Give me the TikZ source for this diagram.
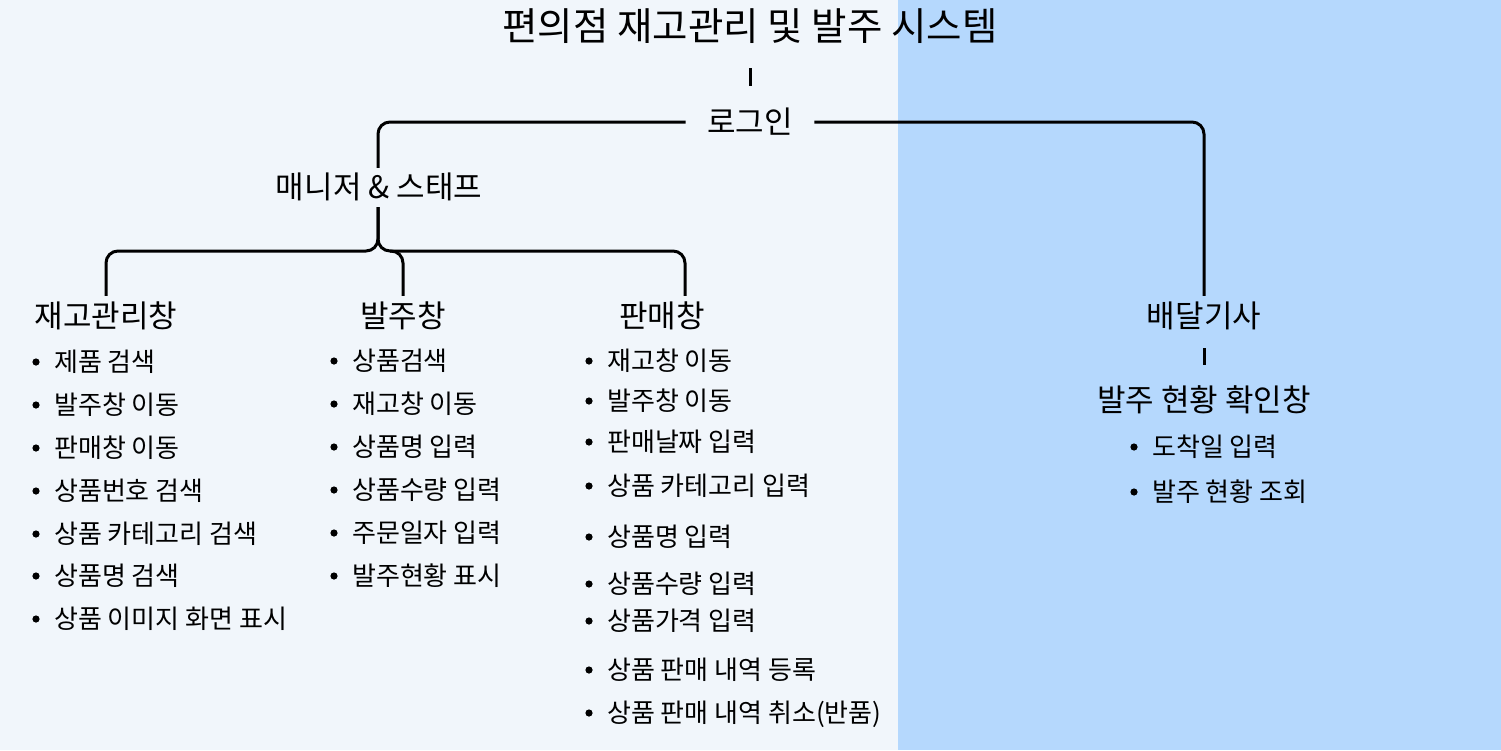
\documentclass[tikz,border=0pt]{standalone}
\usepackage{fontspec}
\setmainfont{Noto Sans CJK KR}
\definecolor{bgL}{HTML}{F1F6FB}
\definecolor{bgR}{HTML}{B5D8FD}
\begin{document}
\begin{tikzpicture}[x=1pt,y=-1pt,
  ttl/.style={font=\fontsize{38.5}{44}\selectfont, inner sep=0pt, text height=33.9pt, text depth=4.6pt},
  hd/.style={font=\fontsize{31}{36}\selectfont, inner sep=0pt, text height=27.3pt, text depth=3.7pt},
  itm/.style={font=\fontsize{26}{30}\selectfont, inner sep=0pt, text height=22.9pt, text depth=3.1pt, anchor=west},
  conn/.style={line width=3pt, rounded corners=12pt},
  bul/.style={fill=black}]
\fill[bgL] (0,0) rectangle (898,750);
\fill[bgR] (898,0) rectangle (1501,750);
\useasboundingbox (0,0) rectangle (1501,750);

\node[ttl] (title) at (750,26) {편의점 재고관리 및 발주 시스템};
\node[hd] (login) at (750,122) {로그인};
\node[hd] (mgr) at (379,187) {매니저 \& 스태프};
\node[hd] (jg) at (106,316) {재고관리창};
\node[hd] (bj) at (403,316) {발주창};
\node[hd] (pm) at (662,316) {판매창};
\node[hd] (dl) at (1204,316) {배달기사};
\node[hd] (st) at (1204,400) {발주 현황 확인창};
\coordinate (hub) at (378,251);

% connectors
\draw[conn] ([yshift=-22.75pt]title.south) -- ([yshift=20.5pt]login.north);
\draw[conn] ([xshift=-21.5pt]login.west) -| ([xshift=-1pt,yshift=3.5pt]mgr.north);
\draw[conn] ([xshift=21.5pt]login.east) -| ([yshift=4.5pt]dl.north);
\draw[conn] ([xshift=-1pt,yshift=-4.5pt]mgr.south) -- (hub) -| ([yshift=4.5pt]jg.north);
\draw[conn] ([xshift=-1pt,yshift=-4.5pt]mgr.south) -- (hub) -| ([xshift=23pt,yshift=4.5pt]pm.north);
\draw[conn] ([xshift=12pt]hub) -| ([yshift=4.5pt]bj.north);
\draw[conn] ([yshift=-16.5pt]dl.south) -- ([yshift=19pt]st.north);

% 재고관리창 items
\node[itm] (j1) at (54,362) {제품 검색};
\node[itm] (j2) at (54,405) {발주창 이동};
\node[itm] (j3) at (54,448) {판매창 이동};
\node[itm] (j4) at (54,491) {상품번호 검색};
\node[itm] (j5) at (54,534) {상품 카테고리 검색};
\node[itm] (j6) at (54,576) {상품명 검색};
\node[itm] (j7) at (54,619) {상품 이미지 화면 표시};
\foreach \n in {j1,j2,j3,j4,j5,j6,j7} \fill[bul] ([xshift=-18pt]\n.west) circle (3.6pt);

% 발주창 items
\node[itm] (b1) at (352,361) {상품검색};
\node[itm] (b2) at (352,404) {재고창 이동};
\node[itm] (b3) at (352,447) {상품명 입력};
\node[itm] (b4) at (352,490) {상품수량 입력};
\node[itm] (b5) at (352,533) {주문일자 입력};
\node[itm] (b6) at (352,576) {발주현황 표시};
\foreach \n in {b1,b2,b3,b4,b5,b6} \fill[bul] ([xshift=-18pt]\n.west) circle (3.6pt);

% 판매창 items
\node[itm] (p1) at (607,361) {재고창 이동};
\node[itm] (p2) at (607,401) {발주창 이동};
\node[itm] (p3) at (607,442) {판매날짜 입력};
\node[itm] (p4) at (607,486) {상품 카테고리 입력};
\node[itm] (p5) at (607,537) {상품명 입력};
\node[itm] (p6) at (607,584) {상품수량 입력};
\node[itm] (p7) at (607,621) {상품가격 입력};
\node[itm] (p8) at (607,670) {상품 판매 내역 등록};
\node[itm] (p9) at (607,713) {상품 판매 내역 취소(반품)};
\foreach \n in {p1,p2,p3,p4,p5,p6,p7,p8,p9} \fill[bul] ([xshift=-18pt]\n.west) circle (3.6pt);

% 발주 현황 확인창 items
\node[itm] (s1) at (1152,447) {도착일 입력};
\node[itm] (s2) at (1152,492) {발주 현황 조회};
\foreach \n in {s1,s2} \fill[bul] ([xshift=-18pt]\n.west) circle (3.6pt);
\end{tikzpicture}
\end{document}
